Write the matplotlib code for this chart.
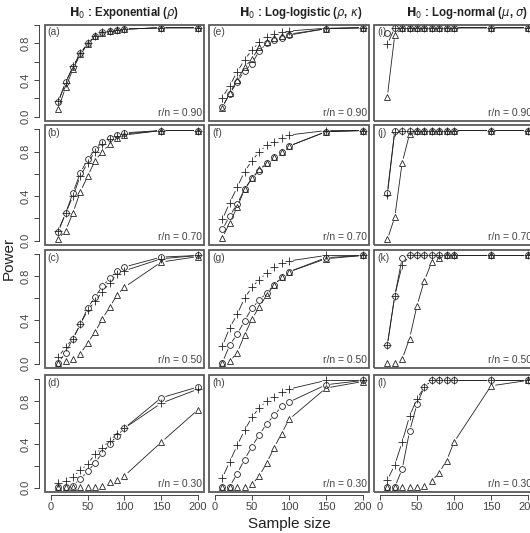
import matplotlib
matplotlib.use('Agg')
import matplotlib.pyplot as plt
from matplotlib.patches import Rectangle

plt.rcParams['font.family'] = ['Liberation Sans', 'DejaVu Sans']
plt.rcParams['mathtext.fontset'] = 'dejavusans'

# ---- data ----
sample_size = [10, 20, 30, 40, 50, 60, 70, 80, 90, 100, 150, 200]
ratios = ['0.90', '0.70', '0.50', '0.30']
panel_ids = [['a', 'b', 'c', 'd'], ['e', 'f', 'g', 'h'], ['i', 'j', 'k', 'l']]
col_titles = [r'$\mathbf{H}_0$ : Exponential ($\rho$)',
              r'$\mathbf{H}_0$ : Log-logistic ($\rho$, $\kappa$)',
              r'$\mathbf{H}_0$ : Log-normal ($\mu$, $\sigma$)']

power_circle = {
    'a': [0.16, 0.38, 0.54, 0.69, 0.80, 0.88, 0.92, 0.935, 0.95, 0.955, 0.97, 0.97],
    'b': [0.08, 0.245, 0.43, 0.61, 0.73, 0.82, 0.887, 0.92, 0.95, 0.97, 0.99, 0.99],
    'c': [0.01, 0.10, 0.23, 0.36, 0.51, 0.61, 0.71, 0.78, 0.85, 0.885, 0.975, 0.99],
    'd': [0.005, 0.01, 0.02, 0.08, 0.15, 0.23, 0.32, 0.405, 0.48, 0.55, 0.83, 0.93],
    'e': [0.11, 0.25, 0.38, 0.50, 0.58, 0.72, 0.80, 0.84, 0.86, 0.89, 0.96, 0.97],
    'f': [0.10, 0.22, 0.33, 0.46, 0.56, 0.63, 0.70, 0.75, 0.80, 0.85, 0.98, 0.99],
    'g': [0.01, 0.17, 0.27, 0.39, 0.51, 0.58, 0.65, 0.72, 0.79, 0.84, 0.97, 0.99],
    'h': [0.01, 0.01, 0.13, 0.26, 0.38, 0.49, 0.59, 0.67, 0.75, 0.79, 0.95, 0.99],
    'i': [0.91, 0.97, 0.97, 0.97, 0.97, 0.97, 0.97, 0.97, 0.97, 0.97, 0.97, 0.97],
    'j': [0.43, 0.99, 0.99, 0.99, 0.99, 0.99, 0.99, 0.99, 0.99, 0.99, 0.99, 0.99],
    'k': [0.17, 0.62, 0.965, 0.99, 0.99, 0.99, 0.99, 0.99, 0.99, 0.99, 0.99, 0.99],
    'l': [0.005, 0.005, 0.17, 0.52, 0.77, 0.93, 0.99, 0.99, 0.99, 0.99, 0.99, 0.99],
}
power_plus = {
    'a': [0.17, 0.37, 0.55, 0.69, 0.80, 0.88, 0.92, 0.935, 0.95, 0.955, 0.97, 0.97],
    'b': [0.09, 0.245, 0.40, 0.58, 0.70, 0.80, 0.87, 0.91, 0.94, 0.96, 0.99, 0.99],
    'c': [0.06, 0.15, 0.23, 0.36, 0.49, 0.57, 0.66, 0.74, 0.82, 0.85, 0.96, 0.99],
    'd': [0.04, 0.066, 0.10, 0.16, 0.22, 0.31, 0.37, 0.435, 0.50, 0.55, 0.78, 0.91],
    'e': [0.21, 0.34, 0.49, 0.62, 0.73, 0.81, 0.87, 0.90, 0.92, 0.935, 0.965, 0.97],
    'f': [0.19, 0.34, 0.48, 0.62, 0.72, 0.80, 0.86, 0.89, 0.92, 0.95, 0.99, 0.99],
    'g': [0.16, 0.33, 0.45, 0.60, 0.70, 0.77, 0.83, 0.88, 0.92, 0.94, 0.99, 0.99],
    'h': [0.09, 0.24, 0.39, 0.53, 0.65, 0.74, 0.80, 0.84, 0.88, 0.91, 0.99, 0.99],
    'i': [0.79, 0.97, 0.97, 0.97, 0.97, 0.97, 0.97, 0.97, 0.97, 0.97, 0.97, 0.97],
    'j': [0.41, 0.98, 0.99, 0.99, 0.99, 0.99, 0.99, 0.99, 0.99, 0.99, 0.99, 0.99],
    'k': [0.17, 0.62, 0.90, 0.99, 0.99, 0.99, 0.99, 0.99, 0.99, 0.99, 0.99, 0.99],
    'l': [0.07, 0.21, 0.42, 0.66, 0.82, 0.93, 0.99, 0.99, 0.99, 0.99, 0.99, 0.99],
}
power_triangle = {
    'a': [0.09, 0.32, 0.52, 0.68, 0.79, 0.88, 0.915, 0.93, 0.945, 0.955, 0.97, 0.97],
    'b': [0.015, 0.09, 0.25, 0.44, 0.58, 0.72, 0.80, 0.87, 0.92, 0.95, 0.99, 0.99],
    'c': [0.01, 0.02, 0.04, 0.09, 0.19, 0.29, 0.41, 0.52, 0.63, 0.70, 0.93, 0.98],
    'd': [0.005, 0.005, 0.01, 0.005, 0.005, 0.01, 0.02, 0.05, 0.07, 0.11, 0.42, 0.72],
    'e': [0.10, 0.26, 0.40, 0.54, 0.63, 0.76, 0.82, 0.86, 0.88, 0.90, 0.96, 0.97],
    'f': [0.025, 0.16, 0.30, 0.46, 0.56, 0.64, 0.70, 0.75, 0.80, 0.85, 0.98, 0.99],
    'g': [0.01, 0.02, 0.10, 0.26, 0.41, 0.52, 0.63, 0.72, 0.79, 0.84, 0.96, 0.99],
    'h': [0.01, 0.01, 0.01, 0.01, 0.03, 0.11, 0.23, 0.37, 0.50, 0.63, 0.92, 0.98],
    'i': [0.22, 0.89, 0.97, 0.97, 0.97, 0.97, 0.97, 0.97, 0.97, 0.97, 0.97, 0.97],
    'j': [0.01, 0.21, 0.70, 0.96, 0.99, 0.99, 0.99, 0.99, 0.99, 0.99, 0.99, 0.99],
    'k': [0.01, 0.01, 0.04, 0.23, 0.53, 0.76, 0.93, 0.97, 0.99, 0.99, 0.99, 0.99],
    'l': [0.005, 0.005, 0.005, 0.005, 0.005, 0.02, 0.06, 0.14, 0.25, 0.42, 0.94, 0.99],
}

# ---- layout (pixels) ----
W, H = 530, 533
col_px = [(45, 204), (209, 369), (374, 534)]
row_px = [(25, 121), (125, 245), (250, 368), (375, 492)]
title_x = [124, 301, 467]
ink = '#222222'
gray = '#444444'

fig = plt.figure(figsize=(W / 100, H / 100), dpi=100, facecolor='white')


def type_b(ax, xs, ys, marker, ms, gap=3.3):
    # R style type="b": segments with gaps around the points
    for x0, y0, x1, y1 in zip(xs[:-1], ys[:-1], xs[1:], ys[1:]):
        p0 = ax.transData.transform((x0, y0))
        p1 = ax.transData.transform((x1, y1))
        dist = ((p1[0] - p0[0]) ** 2 + (p1[1] - p0[1]) ** 2) ** 0.5 * 72 / fig.dpi
        if dist <= 2 * gap + 0.4:
            continue
        ax.annotate('', xy=(x1, y1), xytext=(x0, y0),
                    arrowprops=dict(arrowstyle='-', shrinkA=gap, shrinkB=gap,
                                    lw=0.6, color=ink), annotation_clip=False)
    ax.plot(xs, ys, ls='none', marker=marker, ms=ms, mfc='none', mec=ink,
            mew=0.6, clip_on=False, zorder=4)


for c in range(3):
    for r in range(4):
        x0, x1 = col_px[c]
        y0, y1 = row_px[r]
        ax = fig.add_axes([x0 / W, 1 - y1 / H, (x1 - x0) / W, (y1 - y0) / H])
        ax.set_xlim(-8, 208)
        if r == 0:
            ax.set_ylim(-0.045, 1.0)
        else:
            ax.set_ylim(-0.04, 1.04)
        for s in ax.spines.values():
            s.set_visible(False)
        ax.add_patch(Rectangle((0, 0), 1, 1, transform=ax.transAxes, fill=False,
                               lw=1.3, ec='#5a5a5a', clip_on=False, zorder=6))

        pid = panel_ids[c][r]
        type_b(ax, sample_size, power_triangle[pid], '^', 4.6)
        type_b(ax, sample_size, power_circle[pid], 'o', 4.2)
        type_b(ax, sample_size, power_plus[pid], '+', 6.0)

        ax.text(0.018, 0.975, f'({pid})', transform=ax.transAxes, ha='left', va='top',
                fontsize=7.5, color=gray)
        ax.annotate(f'r/n = {ratios[r]}', xy=(1, 0), xycoords='axes fraction',
                    xytext=(-1.5, 2), textcoords='offset points', ha='right', va='bottom',
                    fontsize=7.5, color=gray)

        if c == 0:
            ax.spines['left'].set_visible(True)
            ax.spines['left'].set_position(('outward', 4.5))
            ax.spines['left'].set_bounds(0, 1)
            ax.spines['left'].set_color(gray)
            ax.spines['left'].set_linewidth(0.7)
            ax.set_yticks([0, 0.2, 0.4, 0.6, 0.8, 1.0])
            ax.set_yticklabels(['0.0', '', '0.4', '', '0.8', ''])
            ax.tick_params(axis='y', length=3.5, width=0.7, pad=2, labelsize=8,
                           labelcolor=gray, color=gray)
            plt.setp(ax.get_yticklabels(), rotation=90, va='center')
        else:
            ax.set_yticks([])
        if r == 3:
            ax.spines['bottom'].set_visible(True)
            ax.spines['bottom'].set_position(('outward', 2))
            ax.spines['bottom'].set_bounds(0, 200)
            ax.spines['bottom'].set_color(gray)
            ax.spines['bottom'].set_linewidth(0.7)
            ax.set_xticks([0, 50, 100, 150, 200])
            ax.tick_params(axis='x', length=3.5, width=0.7, pad=2, labelsize=8,
                           labelcolor=gray, color=gray)
        else:
            ax.set_xticks([])

    fig.text(title_x[c] / W, 1 - 13 / H, col_titles[c], ha='center', va='center',
             fontsize=8.3, fontweight='bold', color=ink)

fig.text(9 / W, 1 - 258 / H, 'Power', rotation=90, ha='center', va='center',
         fontsize=11, color=ink)
fig.text(289 / W, 1 - 524 / H, 'Sample size', ha='center', va='center',
         fontsize=11, color=ink)

fig.savefig('out.png', dpi=100, facecolor='white')
